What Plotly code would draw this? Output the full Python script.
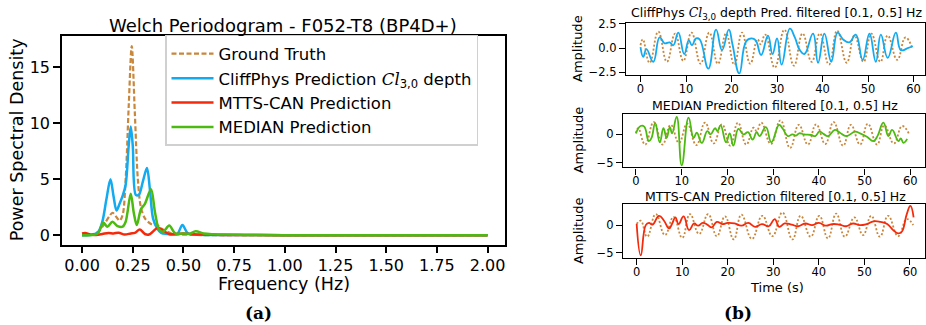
import plotly.graph_objects as go

W, H = 926, 325


def px(x):
    return x / W


def py(y):
    return 1 - y / H


# ---------------- Left panel: Welch periodogram ----------------
freq_gt = [0.0, 0.05, 0.08, 0.11, 0.135, 0.15, 0.17, 0.185, 0.2, 0.215, 0.23, 0.245, 0.26, 0.275,
           0.29, 0.31, 0.34, 0.37, 0.39, 0.42, 0.45, 0.5, 0.55, 0.6, 1.0, 2.0]
psd_gt = [0.0, 0.05, 0.3, 1.0, 1.7, 2.0, 1.6, 1.3, 1.8, 5.0, 11.5, 16.9, 11.0, 5.0,
          2.5, 1.5, 1.0, 0.9, 0.6, 0.3, 0.1, 0.05, 0.02, 0.0, 0.0, 0.0]

freq_cliff = [0.0, 0.05, 0.08, 0.1, 0.12, 0.14, 0.155, 0.17, 0.185, 0.2, 0.215, 0.23, 0.24, 0.25,
              0.265, 0.28, 0.3, 0.32, 0.335, 0.35, 0.37, 0.39, 0.42, 0.45, 0.47, 0.495, 0.52, 0.55,
              0.6, 1.0, 2.0]
psd_cliff = [0.0, 0.02, 0.3, 1.2, 3.2, 5.0, 3.5, 2.2, 2.8, 3.5, 4.5, 8.0, 9.7, 8.0,
             3.6, 3.6, 4.8, 6.0, 4.0, 1.5, 0.6, 0.2, 0.1, 0.05, 0.1, 0.9, 0.2, 0.05,
             0.02, 0.0, 0.0]

freq_mtts = [0.0, 0.015, 0.04, 0.07, 0.1, 0.13, 0.155, 0.18, 0.21, 0.24, 0.26, 0.285, 0.31, 0.33,
             0.375, 0.4, 0.43, 0.47, 0.5, 0.55, 0.6, 0.7, 1.0, 2.0]
psd_mtts = [0.15, 0.2, 0.05, 0.02, 0.1, 0.2, 0.15, 0.22, 0.05, 0.15, 0.2, 0.5, 0.1, 0.05,
            0.65, 0.4, 0.1, 0.1, 0.15, 0.08, 0.05, 0.02, 0.0, 0.0]

freq_median = [0.0, 0.06, 0.08, 0.105, 0.125, 0.15, 0.175, 0.2, 0.215, 0.24, 0.255, 0.27, 0.29,
               0.31, 0.34, 0.36, 0.38, 0.4, 0.43, 0.46, 0.5, 0.53, 0.56, 0.6, 0.65, 0.7, 0.8, 1.0, 2.0]
psd_median = [0.0, 0.02, 0.2, 1.1, 0.75, 1.2, 0.8, 0.75, 1.2, 3.7, 2.0, 0.9, 2.3,
              2.8, 4.1, 2.0, 0.5, 0.3, 0.85, 0.15, 0.15, 0.1, 0.35, 0.15, 0.08, 0.05, 0.02, 0.0, 0.0]

freq_ticks = [0.0, 0.25, 0.5, 0.75, 1.0, 1.25, 1.5, 1.75, 2.0]
psd_ticks = [0, 5, 10, 15]

# ---------------- Right panels: filtered time series ----------------
# Ground truth (shared timing for CliffPhys / MEDIAN panels)
gt_t = [0.0, 0.5, 2.0, 3.9, 5.8, 7.6, 9.4, 11.2, 13.2, 15.1, 17.0, 18.8, 20.6, 22.3, 24.1, 25.7,
        26.4, 27.4, 29.5, 31.6, 33.7, 35.6, 37.6, 39.4, 41.4, 43.2, 45.3, 47.0, 49.0, 50.7, 52.7,
        54.3, 56.4, 58.2, 59.7]
gt_cliff = [0.3, 0.9, -1.5, 1.7, -1.4, 1.5, -1.3, 1.6, -1.6, 1.6, -1.6, 1.5, -1.7, 1.6, -1.6, 0.9,
            0.4, 1.4, -2.0, 1.9, -1.8, 1.5, -1.4, 1.5, -1.7, 1.8, -1.5, 1.3, -1.4, 1.5, -1.4,
            1.3, -1.2, 1.1, 0.0]
gt_median = [0.2, 1.1, -1.8, 2.2, -1.8, 1.7, -1.5, 1.9, -1.9, 2.1, -1.6, 1.8, -2.0, 2.1, -1.8, 1.2,
             0.6, 2.1, -1.7, 2.5, -2.4, 1.7, -1.8, 1.8, -1.7, 2.2, -2.0, 1.7, -1.8, 1.9, -1.8,
             1.6, -1.6, 1.5, 0.1]

# Ground truth in the MTTS-CAN panel (its own time base, ~61 s)
gt_t_mtts = [0.0, 0.9, 2.3, 4.2, 6.2, 8.1, 10.0, 11.7, 13.7, 15.7, 17.6, 19.4, 21.3, 23.0, 25.3,
             27.6, 29.8, 32.0, 34.2, 36.0, 38.2, 40.1, 42.0, 43.8, 45.7, 47.8, 49.7, 51.5, 53.4,
             55.2, 57.4, 59.3, 60.7]
gt_mtts = [0.2, 0.8, -2.1, 2.0, -1.8, 1.5, -2.3, 2.0, -1.6, 2.0, -2.0, 1.6, -2.6, 1.9, -2.5,
           1.7, -2.0, 2.3, -2.6, 1.7, -2.1, 1.7, -2.4, 2.1, -2.1, 1.4, -1.8, 1.7, -2.1,
           1.7, -2.0, 1.1, 0.0]

cliff_t = [0.0, 0.6, 1.3, 2.8, 4.2, 5.3, 6.4, 7.2, 8.3, 9.6, 10.6, 11.3, 12.2, 13.0, 14.9, 16.6,
           17.9, 19.4, 20.2, 21.7, 23.2, 24.4, 25.3, 26.5, 28.0, 29.0, 30.0, 31.0, 32.8, 33.9,
           35.0, 36.0, 37.9, 39.0, 40.4, 41.9, 43.3, 44.5, 45.9, 47.3, 48.8, 50.3, 51.7, 52.8,
           54.3, 56.1, 57.2, 58.7, 59.8]
cliff_v = [0.1, -0.9, -0.1, -1.4, 1.1, 0.5, 0.6, 0.3, 1.6, -0.6, 0.8, 0.3, 1.0, 0.9, -2.1, 1.9,
           -0.2, 1.9, 0.4, -2.6, 0.7, 1.0, 0.8, -0.7, 1.3, -0.6, 1.0, -1.7, 2.0, 1.1,
           -0.2, -0.6, 1.5, -1.5, 1.5, -1.4, 1.6, 0.9, 0.6, 1.4, -1.2, 1.5, -1.4, 1.4,
           -1.0, 1.6, -0.2, 0.0, 0.2]

median_t = [0.0, 1.0, 1.8, 2.8, 3.4, 4.2, 5.2, 6.0, 6.7, 7.4, 7.9, 8.9, 10.0, 11.5, 12.6, 13.3,
            14.4, 15.6, 16.3, 17.3, 17.8, 18.5, 19.7, 20.5, 21.3, 22.4, 23.5, 24.5, 25.5, 26.4,
            27.0, 28.4, 29.6, 31.3, 32.1, 33.2, 34.2, 35.0, 35.7, 36.8, 38.3, 39.2, 40.1, 41.0,
            42.0, 43.5, 44.6, 46.0, 47.9, 49.0, 50.5, 51.9, 52.8, 54.1, 55.2, 56.0, 57.4, 57.9,
            58.5, 59.3]
median_v = [0.2, 1.5, 1.4, -1.2, -0.6, 2.0, -1.4, 1.1, -0.6, 1.3, 0.2, 3.1, -5.5, 3.0, -0.6, 0.3,
            -1.5, 0.6, 0.0, 1.1, 0.6, 1.6, -1.4, 0.2, -2.0, 1.0, 0.0, 0.4, -0.9, 0.4,
            -0.3, 1.3, -1.4, 1.7, 1.0, -0.3, 0.0, -0.2, 0.2, 0.0, -0.1, -0.3, 0.5, 0.1,
            -0.3, 0.8, 0.3, -0.3, 0.5, 0.2, -0.4, -1.2, -0.3, 2.1, -0.3, 0.8, -1.2, -0.7,
            -1.5, -0.8]

mtts_t = [0.0, 0.9, 2.0, 2.7, 3.5, 4.9, 6.0, 7.1, 7.8, 8.5, 9.2, 10.3, 11.5, 12.6, 13.5, 14.5,
          15.5, 16.5, 17.6, 18.8, 20.0, 21.5, 23.0, 24.5, 26.0, 27.5, 29.0, 30.3, 31.3, 32.5,
          34.0, 35.5, 37.0, 38.5, 40.0, 41.5, 43.0, 44.5, 46.0, 47.5, 49.0, 50.5, 52.0, 53.5,
          55.0, 56.3, 57.4, 58.2, 59.3, 60.1, 60.8]
mtts_v = [0.2, -5.5, 0.0, 0.4, 0.1, 1.7, 0.8, -0.6, 0.3, 1.4, 0.2, 1.6, -0.9, 0.3, -0.1, 0.4,
          0.1, -0.4, 0.6, 0.2, 0.4, 0.3, -0.1, 0.4, -0.3, 0.2, -0.2, 1.1, -0.3, 0.3,
          0.1, -0.2, 0.3, 0.0, 0.4, -0.1, 0.2, 0.1, -0.2, 0.3, 0.0, 0.2, 0.7, 0.6,
          0.2, -0.9, -1.5, -1.2, 2.0, 3.5, 1.4]

time_ticks = [0, 10, 20, 30, 40, 50, 60]

# ---------------- Styles ----------------
BROWN = "#c8873c"
BLUE = "#12aaf0"
RED = "#f52a0a"
GREEN = "#4cba10"
FONT = "DejaVu Sans"

fig = go.Figure()

cliff_name = ("CliffPhys Prediction <span style=\"font-family:'DejaVu Serif'\"><i>Cl</i></span>"
              "<sub>3,0</sub> depth")

fig.add_trace(go.Scatter(x=freq_gt, y=psd_gt, mode="lines", name="Ground Truth",
                         line=dict(color=BROWN, width=2.2, dash="5px,2.5px", shape="spline", smoothing=0.9),
                         xaxis="x", yaxis="y"))
fig.add_trace(go.Scatter(x=freq_cliff, y=psd_cliff, mode="lines", name=cliff_name,
                         line=dict(color=BLUE, width=2.5, shape="spline", smoothing=0.9),
                         xaxis="x", yaxis="y"))
fig.add_trace(go.Scatter(x=freq_mtts, y=psd_mtts, mode="lines", name="MTTS-CAN Prediction",
                         line=dict(color=RED, width=2.5, shape="spline", smoothing=0.9),
                         xaxis="x", yaxis="y"))
fig.add_trace(go.Scatter(x=freq_median, y=psd_median, mode="lines", name="MEDIAN Prediction",
                         line=dict(color=GREEN, width=2.5, shape="spline", smoothing=0.9),
                         xaxis="x", yaxis="y"))

panels = [
    ("x2", "y2", gt_t, gt_cliff, cliff_t, cliff_v, BLUE),
    ("x3", "y3", gt_t, gt_median, median_t, median_v, GREEN),
    ("x4", "y4", gt_t_mtts, gt_mtts, mtts_t, mtts_v, RED),
]
for xa, ya, gtt, gtv, pt, pv, col in panels:
    fig.add_trace(go.Scatter(x=gtt, y=gtv, mode="lines", showlegend=False,
                             line=dict(color=BROWN, width=1.8, dash="2px,2px", shape="spline", smoothing=1.3),
                             xaxis=xa, yaxis=ya))
    fig.add_trace(go.Scatter(x=pt, y=pv, mode="lines", showlegend=False,
                             line=dict(color=col, width=1.8, shape="spline", smoothing=1.3),
                             xaxis=xa, yaxis=ya))

axis_common = dict(showline=True, mirror=True, linecolor="black", ticks="outside",
                   tickcolor="black", showgrid=False, zeroline=False)

layout = dict(
    width=W, height=H, autosize=False,
    margin=dict(l=0, r=0, t=0, b=0),
    paper_bgcolor="white", plot_bgcolor="white",
    font=dict(family=FONT, color="black"),
    xaxis=dict(axis_common, domain=[px(62), px(505)], range=[-0.099, 2.086], anchor="y",
               tickvals=freq_ticks, tickformat=".2f", linewidth=1.6, tickwidth=1.6, ticklen=7,
               tickfont=dict(size=16), ticklabelstandoff=-2),
    yaxis=dict(axis_common, domain=[py(247), py(31)], range=[-0.85, 17.8], anchor="x",
               tickvals=psd_ticks, linewidth=1.6, tickwidth=1.6, ticklen=7,
               tickfont=dict(size=16)),
    xaxis2=dict(axis_common, domain=[px(626), px(925)], range=[-3.19, 62.5], anchor="y2",
                tickvals=time_ticks, linewidth=1.4, tickwidth=1.4, ticklen=6, tickfont=dict(size=11.5),
                ticklabelstandoff=-3),
    yaxis2=dict(axis_common, domain=[py(71), py(18)], range=[-2.72, 2.55], anchor="x2",
                tickvals=[-2.5, 0, 2.5], tickformat=".1f", linewidth=1.4, tickwidth=1.4, ticklen=6,
                tickfont=dict(size=11.5)),
    xaxis3=dict(axis_common, domain=[px(623), px(925)], range=[-2.84, 63.2], anchor="y3",
                tickvals=time_ticks, linewidth=1.4, tickwidth=1.4, ticklen=6, tickfont=dict(size=11.5),
                ticklabelstandoff=-3),
    yaxis3=dict(axis_common, domain=[py(167), py(112)], range=[-5.86, 3.6], anchor="x3",
                tickvals=[-5, 0], linewidth=1.4, tickwidth=1.4, ticklen=6, tickfont=dict(size=11.5)),
    xaxis4=dict(axis_common, domain=[px(623), px(925)], range=[-3.0, 63.3], anchor="y4",
                tickvals=time_ticks, linewidth=1.4, tickwidth=1.4, ticklen=6, tickfont=dict(size=11.5),
                ticklabelstandoff=-3),
    yaxis4=dict(axis_common, domain=[py(261), py(205)], range=[-6.0, 3.83], anchor="x4",
                tickvals=[-5, 0], linewidth=1.4, tickwidth=1.4, ticklen=6, tickfont=dict(size=11.5)),
    legend=dict(x=px(165), y=py(30), xanchor="left", yanchor="top", itemwidth=42,
                bgcolor="white", bordercolor="#d0d0d0", borderwidth=1.5,
                font=dict(size=16.5, family=FONT), tracegroupgap=0),
    showlegend=True,
)


def ann(text, x, y, size, angle=0, family=FONT, xanchor="center", yanchor="middle"):
    return dict(text=text, x=px(x), y=py(y), xref="paper", yref="paper", showarrow=False,
                font=dict(size=size, family=family, color="black"), textangle=angle,
                xanchor=xanchor, yanchor=yanchor)


annotations = [
    ann("Welch Periodogram - F052-T8 (BP4D+)", 283, 20, 18),
    ann("Power Spectral Density", 17, 139, 17.5, angle=-90),
    ann("Frequency (Hz)", 284, 288, 17.5),
    ann("<b>(a)</b>", 258, 318, 17, family="DejaVu Serif"),
    ann("CliffPhys <span style=\"font-family:'DejaVu Serif'\"><i>Cl</i></span><sub>3,0</sub>"
        " depth Pred. filtered [0.1, 0.5] Hz", 776, 7.5, 12.5),
    ann("MEDIAN Prediction filtered [0.1, 0.5] Hz", 775, 103.5, 12.5),
    ann("MTTS-CAN Prediction filtered [0.1, 0.5] Hz", 775, 197.5, 12.5),
    ann("Amplitude", 578, 44.5, 13, angle=-90),
    ann("Amplitude", 578, 139, 13, angle=-90),
    ann("Amplitude", 578, 233, 13, angle=-90),
    ann("Time (s)", 777, 291, 13),
    ann("<b>(b)</b>", 738, 318, 17, family="DejaVu Serif"),
]
layout["annotations"] = annotations

fig.update_layout(layout)

fig.write_html("out.html", config={"displayModeBar": False},
               post_script="document.body.style.margin='0px';")
